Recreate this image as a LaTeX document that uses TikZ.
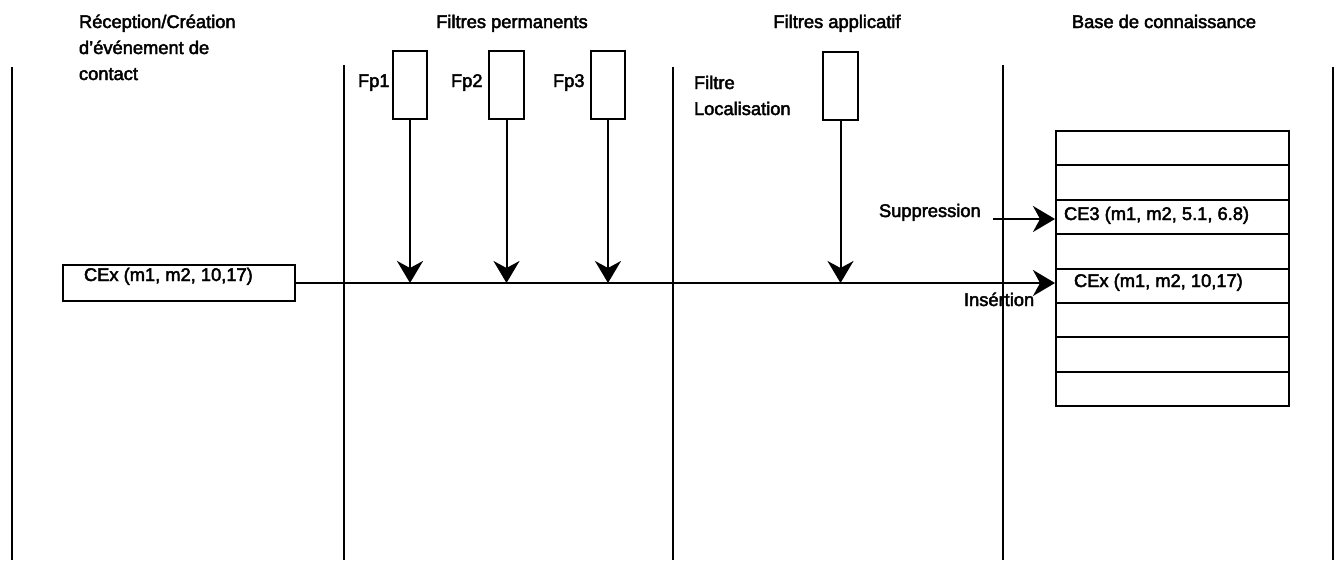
\documentclass[tikz,border=0pt]{standalone}
\usepackage{fontspec}
\setmainfont[FakeBold=2.5]{Liberation Sans}
\usetikzlibrary{arrows.meta}
\begin{document}
\begin{tikzpicture}[x=1pt,y=-1pt,line width=2pt,
  lane/.style={line width=2pt},
  fbox/.style={draw,line width=2pt,minimum width=34pt,minimum height=68pt,inner sep=0pt},
  row/.style={draw,line width=2pt,minimum width=233pt,minimum height=34.375pt,inner sep=0pt},
  cbox/.style={draw,line width=2pt,minimum width=232pt,minimum height=36pt,inner sep=0pt},
  lbl/.style={inner sep=0pt,font=\fontsize{18.3}{26}\selectfont},
  arr/.style={-{Stealth[length=22pt,width=26pt,inset=7pt]},line width=2pt}]
\useasboundingbox (0,0) rectangle (1341,560);
% swimlane separators
\coordinate (l1t) at (12,67);     \coordinate (l1b) at (12,560);
\coordinate (l2t) at (343.5,65);  \coordinate (l2b) at (343.5,560);
\coordinate (l3t) at (673,67);    \coordinate (l3b) at (673,560);
\coordinate (l4t) at (1003,65);   \coordinate (l4b) at (1003,560);
\coordinate (l5t) at (1333,67);   \coordinate (l5b) at (1333,560);
\foreach \i in {1,...,5} \draw[lane] (l\i t) -- (l\i b);
% titles
\node[lbl,anchor=base west,align=left] (t1) at (78,80) {Réception/Création\\d'événement de\\contact};
\node[lbl,anchor=base] (t2) at (512,28) {Filtres permanents};
\node[lbl,anchor=base] (t3) at (837,28) {Filtres applicatif};
\node[lbl,anchor=base] (t4) at (1164,28) {Base de connaissance};
% filters
\node[fbox] (fp1) at (410,85) {};
\node[fbox,minimum width=35pt] (fp2) at (506.5,85) {};
\node[fbox] (fp3) at (608,85) {};
\node[fbox,minimum width=35pt] (floc) at (840.5,86) {};
\node[lbl,anchor=base west] (fp1l) at (357,87) {Fp1};
\node[lbl,anchor=base west] (fp2l) at (450,87) {Fp2};
\node[lbl,anchor=base west] (fp3l) at (552,87) {Fp3};
\node[lbl,anchor=base west,align=left] (flocl) at (693,115) {Filtre\\Localisation};
% event box
\node[cbox] (cex) at (179,283) {};
\node[lbl,anchor=base west] (cexl) at (83,281) {CEx (m1, m2, 10,17)};
% knowledge base
\foreach \i in {1,...,8} \node[row] (r\i) at (1172.5,{131+34.375*(\i-0.5)}) {};
\node[lbl,anchor=base west] (ce3l) at (1063,220) {CE3 (m1, m2, 5.1, 6.8)};
\node[lbl,anchor=base west] (cexkl) at (1073,287) {CEx (m1, m2, 10,17)};
% main flow
\draw[arr] (cex.east) -- (cex.east -| r5.west);
\foreach \f in {fp1,fp2,fp3,floc} \draw[arr] (\f.south) -- (\f.south |- cex.east);
% suppression
\coordinate (sups) at (993,219);
\draw[arr] (sups) -- (sups -| r3.west);
\node[lbl,anchor=base west] (supl) at (878,217) {Suppression};
\node[lbl,anchor=base west] (insl) at (963,306) {Insértion};
\end{tikzpicture}
\end{document}
